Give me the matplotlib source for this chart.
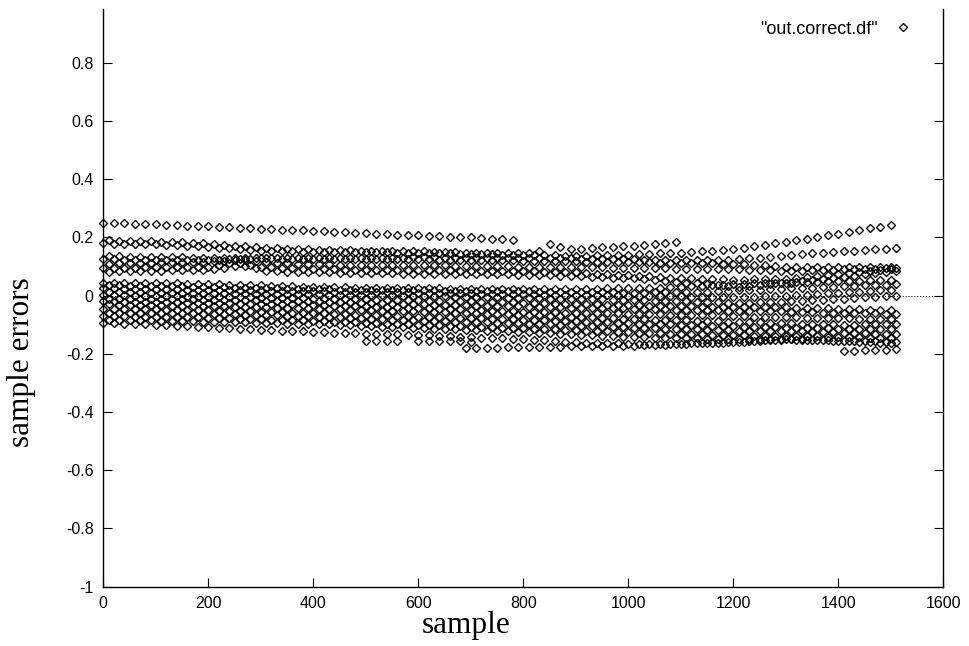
import numpy as np
import matplotlib
matplotlib.use("Agg")
import matplotlib.pyplot as plt
from matplotlib.ticker import FuncFormatter, MultipleLocator

plt.rcParams['font.family'] = ['Liberation Sans', 'DejaVu Sans']

step = 20  # samples between plotted points of one track

# sample errors per track, in thousandths, read every 20 samples
t1 = [250, 249, 248, 247, 246, 245, 244, 243, 241, 240, 238, 237, 235, 234, 232, 230, 229, 227, 225, 224,
      222, 221, 219, 218, 216, 215, 213, 212, 210, 209, 207, 206, 204, 203, 201, 200, 198, 196, 194, 192]
t2 = [190, 189, 188, 188, 187, 186, 185, 183, 181, 180, 178, 175, 172, 170, 167, 165, 163, 162, 160, 159,
      158, 157, 157, 156, 155, 155, 154, 154, 153, 152, 152, 151, 150, 149, 148, 148, 147, 147, 146, 146,
      146, 155, 178, 168, 162, 162, 164, 166, 168, 170, 172, 175, 178, 181, 185]
t3 = [180, 179, 178, 178, 177, 176, 175, 173, 171, 170, 168, 165, 163, 160, 158, 155, 154, 153, 152, 151,
      150, 150, 150, 150, 150, 150, 149, 149, 148, 148, 147, 146, 145, 145, 144, 143, 142, 142, 141, 141,
      140, 140, 139, 139, 138, 138, 138, 139, 139, 140, 140, 142, 143, 145, 146, 148, 150, 153, 155, 158,
      160, 165, 170, 175, 180, 185, 190, 196, 201, 207, 212, 218, 224, 231, 237, 243]
t4 = [135, 135, 134, 134, 133, 133, 132, 132, 131, 131, 130, 130, 130, 129, 129, 129, 128, 128, 128, 128,
      128, 128, 129, 129, 130, 130, 130, 131, 131, 132, 132, 132, 131, 131, 131, 131, 131, 130, 130, 130,
      130, 129, 129, 128, 128, 127, 127, 126, 126, 125, 125, 124, 124, 123, 123, 122, 122, 123, 123, 124,
      125, 128, 131, 134, 137, 140, 142, 145, 147, 150, 152, 155, 157, 160, 162, 165]
t5 = [125, 125, 124, 124, 124, 123, 123, 123, 122, 122, 122, 123, 125, 126, 127, 128, 128, 127, 126, 126,
      125, 125, 125, 125, 125, 125, 125, 125, 125, 125, 125, 125, 124, 124, 123, 123, 122, 122, 121, 121,
      120, 120, 119, 119, 118, 118, 117, 117, 116, 116, 115, 114, 114, 113, 113, 112, 112, 111, 111, 110,
      110, 108, 106, 104, 102, 100, 100, 99, 99, 98, 98, 98, 99, 99, 100, 100]
t6 = [110, 111, 112, 112, 113, 114, 115, 116, 116, 117, 118, 119, 121, 122, 118, 115, 113, 112, 110, 109,
      108, 108, 107, 107, 106, 106, 106, 106, 105, 105, 105, 104, 104, 103, 103, 102, 102, 101, 101, 100,
      100, 100, 99, 99, 98, 98, 97, 97, 96, 96, 95, 95, 94, 94, 93, 93, 92, 92, 91, 91,
      90, 89, 88, 87, 86, 85, 86, 87, 88, 89, 90, 91, 92, 93, 94, 95]
t7 = [95, 95, 96, 96, 97, 97, 98, 98, 99, 99, 100, 106, 112, 113, 106, 100, 98, 96, 94, 92,
      90, 90, 90, 89, 89, 89, 89, 88, 88, 88, 88, 87, 87, 87, 86, 86, 86, 86, 85, 85,
      85, 84, 83, 82, 81, 80, 78, 76, 74, 72, 70, 68, 66, 64, 62, 60, 59, 58, 57, 56,
      55, 55, 56, 56, 57, 58, 61, 65, 68, 72, 75, 78, 82, 85, 89, 92]
t8 = [83, 84, 84, 85, 86, 86, 87, 88, 88, 89, 90, 96, 102, 103, 94, 85, 84, 83, 82, 81,
      80, 80, 79, 79, 78, 78, 77, 77, 76, 76, 75, 75, 75, 74, 74, 74, 73, 73, 73, 72,
      72, 71, 70, 68, 67, 66, 65, 64, 62, 61, 60, 57, 54, 51, 48, 45, 42, 39, 36, 33,
      30, 33, 36, 39, 42, 45, 49, 53, 57, 61, 65, 69, 73, 77, 81, 85]
l1 = [45, 45, 44, 44, 43, 43, 42, 42, 41, 41, 40, 39, 38, 37, 36, 35, 34, 33, 32, 31,
      30, 30, 29, 29, 28, 28, 27, 27, 26, 26, 25, 25, 25, 24, 24, 24, 23, 23, 23, 22,
      22, 22, 23, 23, 24, 24, 24, 24, 25, 25, 25, 26, 27, 28, 29, 30, 32, 34, 36, 38,
      40, 41, 42, 43, 44, 45, 46, 47, 48, 49, 50, 51, 52, 53, 54, 55]
l2 = [35, 35, 34, 34, 33, 33, 32, 32, 31, 31, 30, 29, 28, 27, 26, 26, 25, 24, 23, 22,
      22, 22, 21, 21, 20, 20, 19, 19, 18, 18, 18, 18, 17, 17, 17, 16, 16, 16, 15, 15,
      15, 14, 14, 13, 13, 12, 12, 11, 11, 10, 10, 10, 11, 11, 12, 12, 13, 14, 16, 17,
      18, 19, 21, 22, 24, 25, 26, 28, 29, 31, 32, 34, 35, 37, 38, 40]
l3 = [25, 25, 24, 24, 23, 23, 22, 22, 21, 21, 20, 20, 19, 19, 18, 18, 17, 17, 16, 16,
      15, 15, 14, 14, 13, 13, 12, 12, 11, 11, 10, 10, 9, 9, 8, 8, 7, 7, 6, 6,
      5, 5, 4, 4, 3, 3, 2, 2, 1, 1, 0, 0, -1, -1, -2, -2, -3, -3, -4, -4,
      -5, -4, -3, -2, -1, 0, 2, 4, 6, 8, 10, 12, 14, 16, 18, 20]
l4 = [12, 12, 11, 11, 10, 10, 10, 9, 9, 8, 8, 8, 7, 7, 7, 6, 6, 6, 5, 5,
      5, 4, 4, 3, 2, 2, 1, 1, 0, 0, 0, -1, -2, -3, -4, -4, -5, -6, -7, -8,
      -8, -9, -10, -11, -11, -12, -13, -13, -14, -15, -15, -16, -17, -18, -19, -20, -21, -22, -23, -24,
      -25, -24, -23, -22, -21, -20, -18, -16, -14, -12, -10, -8, -6, -4, -2, 0]
l5 = [2, 1, 1, 0, 0, -1, -1, -2, -3, -3, -4, -4, -5, -6, -6, -7, -8, -8, -9, -9,
      -10, -11, -11, -12, -12, -13, -14, -14, -15, -15, -16, -17, -18, -19, -19, -20, -21, -22, -23, -23,
      -24, -25, -26, -27, -27, -28, -29, -30, -31, -31, -32, -33, -34, -34, -35, -36, -37, -38, -38, -39,
      -40, -40, -40, -40, -40, -40, -41, -42, -43, -44, -45, -46, -47, -48, -49, -50]
l6 = [-10, -10, -11, -11, -12, -12, -12, -13, -13, -14, -14, -15, -15, -16, -16, -17, -18, -18, -19, -19,
      -20, -21, -22, -23, -24, -25, -26, -27, -28, -29, -30, -31, -32, -32, -33, -34, -35, -36, -36, -37,
      -38, -39, -39, -40, -41, -41, -42, -43, -43, -44, -45, -46, -46, -47, -48, -48, -49, -50, -50, -51,
      -52, -53, -53, -54, -54, -55, -56, -57, -58, -59, -60, -60, -61, -61, -62, -62]
l7 = [-20, -20, -21, -21, -22, -22, -23, -23, -24, -24, -25, -26, -26, -27, -28, -28, -29, -30, -30, -31,
      -32, -33, -34, -35, -36, -37, -38, -39, -40, -41, -42, -43, -45, -46, -47, -48, -50, -51, -52, -54,
      -55, -56, -56, -57, -58, -58, -59, -60, -61, -61, -62, -63, -64, -64, -65, -66, -67, -68, -68, -69,
      -70, -71, -72, -72, -73, -74, -75, -76, -76, -77, -78, -78, -79, -79, -80, -80]
l8 = [-30, -31, -31, -32, -32, -33, -34, -34, -35, -35, -36, -37, -38, -39, -40, -40, -41, -42, -43, -44,
      -45, -46, -47, -48, -49, -50, -51, -52, -53, -54, -55, -56, -57, -58, -59, -60, -62, -63, -64, -65,
      -66, -67, -69, -70, -72, -73, -74, -76, -77, -79, -80, -81, -82, -83, -84, -85, -86, -87, -88, -89,
      -90, -91, -92, -93, -94, -95, -96, -97, -98, -99, -100, -100, -99, -99, -98, -98]
l9 = [-45, -45, -46, -46, -47, -47, -48, -48, -49, -49, -50, -51, -52, -53, -54, -55, -56, -57, -58, -59,
      -60, -61, -62, -64, -65, -66, -67, -68, -70, -71, -72, -73, -74, -75, -76, -77, -78, -79, -80, -81,
      -82, -83, -85, -86, -87, -88, -90, -91, -92, -94, -95, -96, -97, -98, -99, -100, -101, -102, -103, -104,
      -105, -106, -107, -108, -109, -110, -111, -111, -112, -112, -113, -113, -114, -114, -115, -115]
l10 = [-58, -58, -59, -59, -60, -60, -60, -61, -61, -62, -62, -63, -64, -65, -66, -67, -68, -69, -70, -71,
       -72, -73, -75, -76, -78, -79, -80, -82, -83, -85, -86, -87, -88, -89, -90, -91, -92, -93, -94, -95,
       -96, -97, -99, -100, -102, -103, -104, -106, -107, -109, -110, -111, -112, -113, -114, -115, -116, -117, -118, -119,
       -120, -120, -121, -121, -122, -122, -123, -124, -125, -126, -127, -128, -129, -130, -131, -132]
l11 = [-70, -71, -71, -72, -72, -73, -74, -74, -75, -75, -76, -77, -78, -79, -80, -81, -82, -83, -84, -85,
       -86, -87, -89, -90, -92, -93, -94, -96, -97, -99, -100, -101, -102, -104, -105, -106, -107, -108, -110, -111,
       -112, -113, -115, -116, -118, -119, -120, -122, -123, -125, -126, -127, -128, -129, -130, -131, -132, -133, -134, -135,
       -136, -136, -137, -137, -138, -138, -139, -140, -140, -141, -142, -143, -143, -144, -144, -145]
l12 = [-82, -83, -84, -84, -85, -86, -87, -88, -88, -89, -90, -91, -92, -92, -93, -94, -95, -96, -96, -97,
       -98, -99, -101, -102, -104, -105, -106, -108, -109, -111, -112, -113, -115, -116, -118, -119, -120, -122, -123, -125,
       -126, -128, -129, -131, -133, -134, -136, -137, -139, -141, -142, -143, -144, -145, -146, -146, -147, -148, -149, -149,
       -150, -150, -150, -150, -150, -150, -151, -152, -154, -155, -156, -156, -157, -157, -158, -158]
l13 = [-93, -94, -96, -97, -99, -100, -102, -103, -105, -106, -108, -110, -111, -113, -115, -117, -118, -120, -122, -123,
       -125, -126, -127, -128, -129, -130, -131, -132, -133, -134, -135, -136, -138, -139, -141, -142, -144, -145, -147, -148,
       -150, -152, -154, -156, -158, -160, -161, -162, -163, -164, -165, -165, -165, -165, -165, -165, -164, -163, -162, -161,
       -160, -158, -156, -154, -152, -150, -151, -152, -153, -154, -155, -156, -158, -159, -161, -162]
l14 = [-180, -180, -179, -179, -178, -178, -178, -177, -176, -175, -173, -172, -172, -172, -172, -172, -172, -171, -170, -168,
       -167, -165, -164, -162, -161, -159, -158, -157, -155, -154, -152, -150, -149]
s1 = [-155, -155, -156, -156]
s2 = [-155, -156, -156, -157, -157, -158]
s3 = [-190, -189, -188, -187, -185, -183]

# (first sample, track); neighbouring tracks are read at staggered samples
tracks = [(0, t1), (10, t2), (0, t3), (10, t4), (0, t5), (10, t6), (0, t7), (10, t8),
          (0, l1), (10, l2), (0, l3), (10, l4), (0, l5), (10, l6), (0, l7), (10, l8),
          (0, l9), (10, l10), (0, l11), (10, l12), (0, l13), (690, l14),
          (500, s1), (600, s2), (1410, s3)]

W, H = 969, 646
fig = plt.figure(figsize=(W / 100, H / 100), dpi=100)
ax = fig.add_axes([103.3 / W, 1 - 586.7 / H, 840 / W, 577.7 / H])

ax.axhline(0, color='black', lw=0.7, ls=(0, (1, 2)), zorder=1)

for i, (start, vals) in enumerate(tracks):
    xs = start + step * np.arange(len(vals))
    ys = np.array(vals) / 1000.0
    ax.plot(xs, ys, ls='none', marker='D', ms=4.5, mfc='none', mec='black', mew=1.0,
            zorder=2, clip_on=False, label='"out.correct.df"' if i == 0 else None)

ax.set_xlim(0, 1600)
ax.set_ylim(-1, 0.985)
ax.xaxis.set_major_locator(MultipleLocator(200))
ax.yaxis.set_major_locator(MultipleLocator(0.2))
ax.yaxis.set_major_formatter(FuncFormatter(lambda v, p: '%g' % round(v, 3)))
ax.tick_params(direction='in', length=6.5, width=0.8, labelsize=11.5, top=False, right=True)
ax.tick_params(axis='x', pad=7)
ax.tick_params(axis='y', pad=7)
ax.spines['top'].set_visible(False)
for s in ['left', 'right', 'bottom']:
    ax.spines[s].set_linewidth(1.0)

fig.text(22 / W, 1 - 362 / H, 'sample errors', rotation=90, ha='center', va='center',
         family='Liberation Serif', fontsize=22.5)
fig.text(466 / W, 1 - 625 / H, 'sample', ha='center', va='center',
         family='Liberation Serif', fontsize=22.5)

ax.legend(loc='center right', bbox_to_anchor=(910 / W, 1 - 29 / H), bbox_transform=fig.transFigure,
          markerfirst=False, frameon=False, fontsize=13, handlelength=0.8, handletextpad=1.0,
          borderpad=0, borderaxespad=0, numpoints=1, markerscale=0.9)

fig.savefig('out.png', dpi=100)
